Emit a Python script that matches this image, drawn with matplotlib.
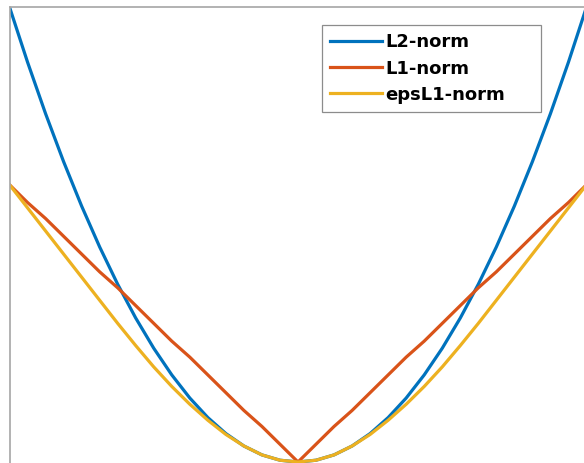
import numpy as np
import matplotlib
matplotlib.use("Agg")
import matplotlib.pyplot as plt

# valores (x de -1.6 a 1.6 cada 0.1)
x = [-1.6, -1.5, -1.4, -1.3, -1.2, -1.1, -1.0, -0.9, -0.8, -0.7, -0.6,
     -0.5, -0.4, -0.3, -0.2, -0.1, 0.0, 0.1, 0.2, 0.3, 0.4, 0.5, 0.6,
     0.7, 0.8, 0.9, 1.0, 1.1, 1.2, 1.3, 1.4, 1.5, 1.6]
l2 = [2.56, 2.25, 1.96, 1.69, 1.44, 1.21, 1.00, 0.81, 0.64, 0.49, 0.36,
      0.25, 0.16, 0.09, 0.04, 0.01, 0.00, 0.01, 0.04, 0.09, 0.16, 0.25, 0.36,
      0.49, 0.64, 0.81, 1.00, 1.21, 1.44, 1.69, 1.96, 2.25, 2.56]
l1 = [1.56, 1.46, 1.37, 1.27, 1.17, 1.07, 0.98, 0.88, 0.78, 0.68, 0.59,
      0.49, 0.39, 0.29, 0.20, 0.10, 0.00, 0.10, 0.20, 0.29, 0.39, 0.49, 0.59,
      0.68, 0.78, 0.88, 0.98, 1.07, 1.17, 1.27, 1.37, 1.46, 1.56]
eps_l1 = [1.56, 1.43, 1.30, 1.17, 1.04, 0.91, 0.78, 0.655, 0.535, 0.425, 0.325,
          0.235, 0.155, 0.09, 0.04, 0.01, 0.00, 0.01, 0.04, 0.09, 0.155, 0.235, 0.325,
          0.425, 0.535, 0.655, 0.78, 0.91, 1.04, 1.17, 1.30, 1.43, 1.56]
etiquetas = ['L2-norm', 'L1-norm', 'epsL1-norm']
colores = ['#0072BD', '#D95319', '#EDB120']

W, H = 584, 463
fig = plt.figure(figsize=(W / 100, H / 100), dpi=100)
# ejes que se salen de la imagen por la derecha y por abajo (recorte)
izq, der, arriba, abajo = 9.5, 586.5, 7, 480
ax = fig.add_axes([izq / W, 1 - abajo / H, (der - izq) / W, (abajo - arriba) / H])
escala = (462 - arriba) / 2.56
ax.set_xlim(-1.6, 1.6)
ax.set_ylim(-(abajo - 462) / escala, 2.56)

for serie, nombre, c in zip([l2, l1, eps_l1], etiquetas, colores):
    ax.plot(x, serie, color=c, linewidth=2.3, label=nombre, solid_joinstyle='round')

ax.set_xticks([])
ax.set_yticks([])
for lado in ['right', 'bottom']:
    ax.spines[lado].set_visible(False)
for lado in ['left', 'top']:
    ax.spines[lado].set_color('#a6a6a6')
    ax.spines[lado].set_linewidth(1.2)

leg = ax.legend(loc='upper left',
                bbox_to_anchor=(322 / W, 1 - 30 / H, (541 - 322) / W, 0.01),
                bbox_transform=fig.transFigure, mode='expand', borderaxespad=0,
                prop={'family': 'DejaVu Sans', 'weight': 'bold', 'size': 13},
                handlelength=2.9, handletextpad=0.15, labelspacing=0.45,
                borderpad=0.45, fancybox=False, framealpha=1)
leg.get_frame().set_edgecolor('#8c8c8c')
leg.get_frame().set_linewidth(0.9)

fig.savefig('out.png', dpi=100)
